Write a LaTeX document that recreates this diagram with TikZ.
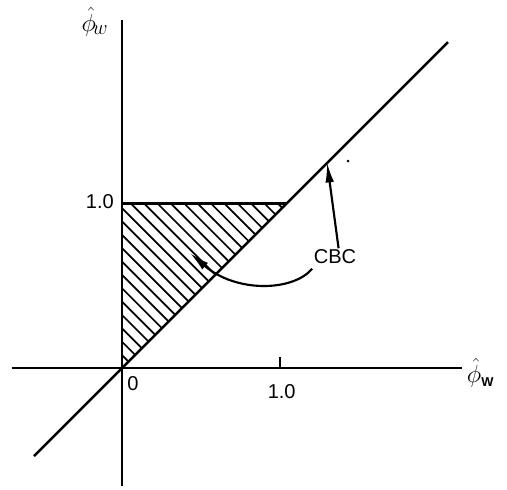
\documentclass[tikz,border=0pt]{standalone}
\usepackage{fontspec}
\setmainfont{Liberation Sans}
\usepackage{amsmath}
\usetikzlibrary{arrows.meta}
\tikzset{
    axis/.style={line width=1.7pt},
    hatch/.style={line width=1.2pt},
    lbl/.style={font=\fontsize{14}{16}\selectfont, inner sep=1pt},
    axlbl/.style={font=\fontsize{19}{21}\selectfont, inner sep=1pt},
    pointer/.style={line width=1.5pt, -{Latex[length=14pt,width=6pt]}}
}

\begin{document}
\begin{tikzpicture}[x=4cm, y=4cm]
        \useasboundingbox (-0.748,-0.742) rectangle (2.362,2.258);
        % hatched region
        \begin{scope}
            \clip (0,0) -- (0,1.01) -- (1.01,1.01) -- cycle;
            \foreach \c in {0.08,0.162,...,2.0} {
                \draw[hatch] (\c-1.2,1.2) -- (\c+1.2,-1.2);
            }
        \end{scope}
        \draw[axis] (0,1.01) -- (1.01,1.01);
        % axes and diagonal
        \draw[axis] (-0.675,0) -- (2.086,0);
        \draw[axis] (0,-0.724) -- (0,2.135);
        \draw[axis] (-0.54,-0.54) -- (2.0,2.0);
        \draw[axis] (0.97,0) -- (0.97,0.067);
        % labels
        \node[axlbl] (ylab) at (-0.165,2.125) {$\hat{\phi}_{\!w}$};
        \node[axlbl] (xlab) at (2.2,-0.03) {$\hat{\phi}_{\text{\bfseries\small W}}$};
        \node[lbl] (yone) at (-0.135,1.02) {1.0};
        \node[lbl] (xone) at (0.98,-0.147) {1.0};
        \node[lbl] (zero) at (0.067,-0.092) {0};
        \node[lbl] (cbc) at (1.307,0.681) {CBC};
        % pointers
        \coordinate (online) at (1.258,1.262);
        \coordinate (inside) at (0.417,0.706);
        \draw[pointer] (cbc.68) -- (online);
        \draw[pointer] ([yshift=-2pt]cbc.south west) .. controls (1.05,0.47) and (0.7,0.46) .. (inside);
        \fill (1.387,1.27) circle (0.009);
    \end{tikzpicture}
\end{document}
